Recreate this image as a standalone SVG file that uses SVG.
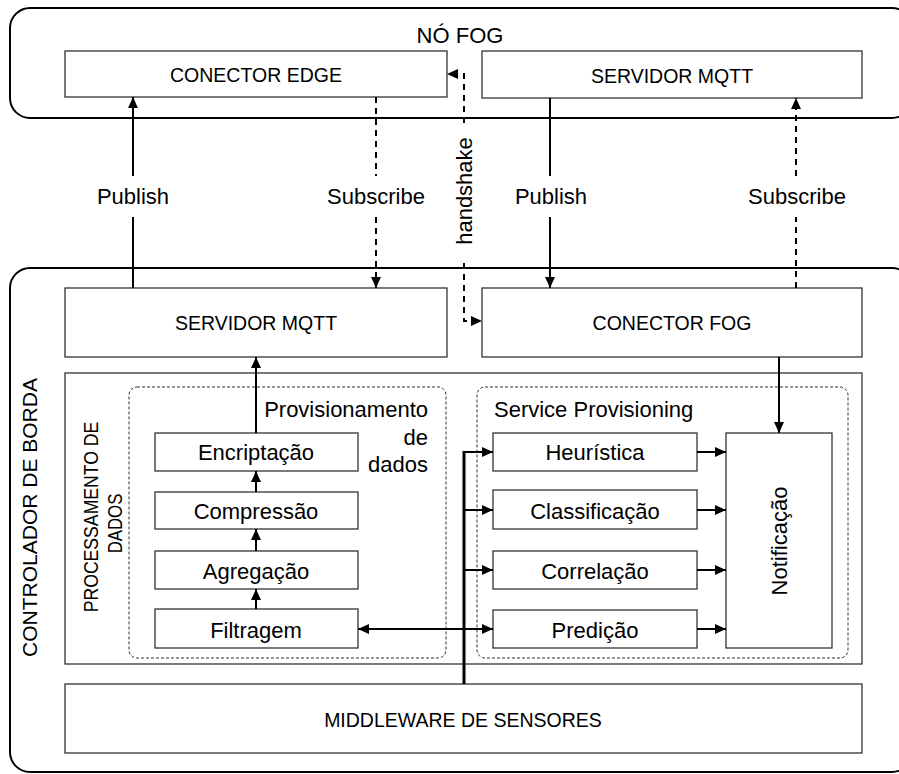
<svg xmlns="http://www.w3.org/2000/svg" width="899" height="774" viewBox="0 0 899 774">
<defs>
<marker id="ah" viewBox="0 0 10 9" refX="10" refY="4.5" markerWidth="11" markerHeight="10" markerUnits="userSpaceOnUse" orient="auto-start-reverse">
<path d="M0,0 L10,4.5 L0,9 z" fill="#000"/>
</marker>
</defs>
<style>
.t{font-family:"Liberation Sans",Arial,Helvetica,sans-serif;fill:#000}
.big{font-size:22px}
.cap{font-size:19.5px}
.mid{text-anchor:middle}
.box{fill:#fff;stroke:#333;stroke-width:1.3}
.outer{fill:none;stroke:#000;stroke-width:2}
.grp{fill:none;stroke:#333;stroke-width:1;stroke-dasharray:3 2}
.ln{fill:none;stroke:#000;stroke-width:2}
.ar{marker-end:url(#ah)}
.da{stroke-dasharray:6 5}
.thick{stroke-width:3}
</style>
<rect width="899" height="774" fill="#fff"/>

<g id="no-fog">
<rect class="outer" x="10" y="8" width="902" height="110" rx="20"/>
<text class="t big mid" x="460" y="43">NÓ FOG</text>
</g>
<g id="controlador-borda">
<rect class="outer" x="10" y="268" width="902" height="504" rx="20"/>
<text class="t mid" font-size="21" transform="translate(37,517.5) rotate(-90)">CONTROLADOR DE BORDA</text>
</g>

<g id="conector-edge">
<rect class="box" x="65" y="51" width="382" height="46"/>
<text class="t cap mid" x="256" y="82">CONECTOR EDGE</text>
</g>
<g id="servidor-mqtt-fog">
<rect class="box" x="482" y="51" width="380" height="47"/>
<text class="t cap mid" x="672" y="83">SERVIDOR MQTT</text>
</g>
<g id="servidor-mqtt-borda">
<rect class="box" x="65" y="288" width="382" height="69"/>
<text class="t cap mid" x="256" y="330">SERVIDOR MQTT</text>
</g>
<g id="conector-fog">
<rect class="box" x="482" y="288" width="380" height="69"/>
<text class="t cap mid" x="672" y="330">CONECTOR FOG</text>
</g>

<g id="processamento">
<rect class="box" x="65" y="373" width="797" height="291"/>
<text class="t mid" font-size="21" transform="translate(98,517) rotate(-90) scale(0.84,1)">PROCESSAMENTO DE</text>
<text class="t mid" font-size="21" transform="translate(122,523.5) rotate(-90) scale(0.8,1)">DADOS</text>
</g>

<g id="provisionamento-dados">
<rect class="grp" x="129" y="387" width="317" height="271" rx="8"/>
<text class="t big" text-anchor="end" x="428" y="417">Provisionamento</text>
<text class="t big" text-anchor="end" x="428" y="445">de</text>
<text class="t big" text-anchor="end" x="428" y="472">dados</text>
</g>
<g id="service-provisioning">
<rect class="grp" x="477" y="387" width="371" height="271" rx="8"/>
<text class="t big" x="494" y="417">Service Provisioning</text>
</g>

<g id="encriptacao"><rect class="box" x="155" y="433" width="203" height="38"/><text class="t big mid" x="256" y="460">Encriptação</text></g>
<g id="compressao"><rect class="box" x="155" y="492" width="203" height="37"/><text class="t big mid" x="256" y="519">Compressão</text></g>
<g id="agregacao"><rect class="box" x="155" y="551" width="203" height="38"/><text class="t big mid" x="256" y="579">Agregação</text></g>
<g id="filtragem"><rect class="box" x="155" y="609" width="203" height="39"/><text class="t big mid" x="256" y="638">Filtragem</text></g>

<g id="heuristica"><rect class="box" x="493" y="433" width="204" height="38"/><text class="t big mid" x="595" y="460">Heurística</text></g>
<g id="classificacao"><rect class="box" x="493" y="490" width="204" height="39"/><text class="t big mid" x="595" y="519">Classificação</text></g>
<g id="correlacao"><rect class="box" x="493" y="551" width="204" height="38"/><text class="t big mid" x="595" y="579">Correlação</text></g>
<g id="predicao"><rect class="box" x="493" y="610" width="204" height="38"/><text class="t big mid" x="595" y="638">Predição</text></g>

<g id="notificacao">
<rect class="box" x="726" y="433" width="106" height="215"/>
<text class="t big mid" transform="translate(787,541) rotate(-90)">Notificação</text>
</g>

<g id="middleware">
<rect class="box" x="65" y="684" width="797" height="69"/>
<text class="t cap mid" x="463" y="727">MIDDLEWARE DE SENSORES</text>
</g>

<g id="connectors">
<path class="ln" d="M133,288 V217"/>
<path class="ln ar" d="M133,176 V97"/>
<text class="t big mid" x="133" y="204">Publish</text>

<path class="ln da" d="M376,97 V176"/>
<path class="ln da ar" d="M376,217 V288"/>
<text class="t big mid" x="376" y="204">Subscribe</text>

<path class="ln" d="M550,98 V176"/>
<path class="ln ar" d="M550,217 V288"/>
<text class="t big mid" x="551" y="204">Publish</text>

<path class="ln da" d="M796,288 V217"/>
<path class="ln da ar" d="M796,176 V98"/>
<text class="t big mid" x="797" y="204">Subscribe</text>

<path class="ln da ar" d="M464,123 V74 H447"/>
<path class="ln da ar" d="M464,263 V321 H482"/>
<text class="t big mid" transform="translate(472,191) rotate(-90)">handshake</text>

<path class="ln ar" d="M256,433 V357"/>
<path class="ln ar" d="M256,492 V471"/>
<path class="ln ar" d="M256,551 V529"/>
<path class="ln ar" d="M256,609 V589"/>

<path class="ln" style="marker-start:url(#ah);marker-end:url(#ah)" d="M358,629 H493"/>
<path class="ln thick" d="M464,684 V451"/>
<path class="ln ar" d="M464,452 H493"/>
<path class="ln ar" d="M464,510 H493"/>
<path class="ln ar" d="M464,570 H493"/>

<path class="ln ar" d="M697,452 H726"/>
<path class="ln ar" d="M697,510 H726"/>
<path class="ln ar" d="M697,570 H726"/>
<path class="ln ar" d="M697,629 H726"/>

<path class="ln ar" d="M779,357 V433"/>
</g>
</svg>
